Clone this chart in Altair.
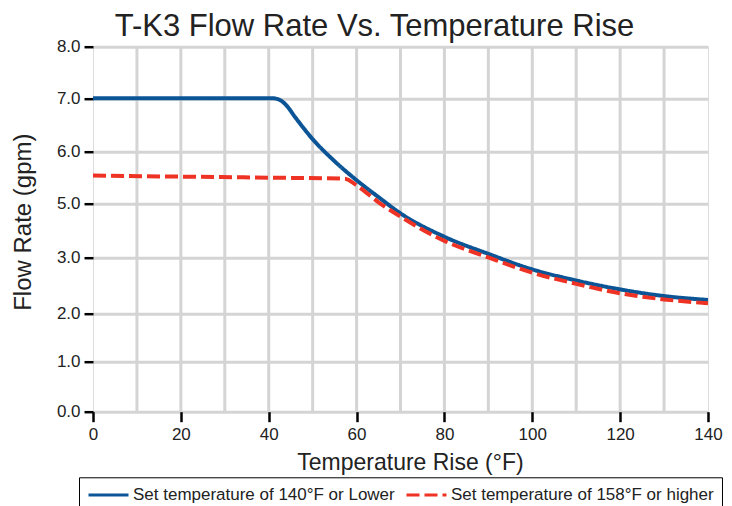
import altair as alt
import pandas as pd

# Data
blue_name = "Set temperature of 140°F or Lower"
red_name = "Set temperature of 158°F or higher"

blue_x = [0, 10, 20, 30, 40, 41, 42.5, 44, 46, 50, 55, 60, 65, 70, 80, 90, 100, 110, 120, 130, 140]
blue_y = [7.0, 7.0, 7.0, 7.0, 7.0, 7.0, 6.97, 6.87, 6.65, 6.24, 5.82, 5.45, 5.12, 4.63, 3.77, 3.14, 2.79, 2.59, 2.43, 2.31, 2.24]

red_x = [0, 20, 40, 57.3, 60, 65, 70, 80, 90, 100, 110, 120, 130, 140]
red_y = [5.54, 5.52, 5.50, 5.48, 5.35, 5.02, 4.51, 3.62, 3.01, 2.73, 2.53, 2.36, 2.25, 2.18]

y_ticks = [0, 1, 2, 3, 5, 6, 7, 8]
x_ticks = [0, 20, 40, 60, 80, 100, 120, 140]
x_grid = [10, 20, 30, 40, 50, 60, 70, 80, 90, 100, 110, 120, 130]

rows = [{"temp": x, "flow": y, "series": blue_name} for x, y in zip(blue_x, blue_y)]
rows += [{"temp": x, "flow": y, "series": red_name} for x, y in zip(red_x, red_y)]
df = pd.DataFrame(rows)
grid_df = pd.DataFrame({"g": x_grid})

FONT = "Liberation Sans"
W, H = 615, 365
y_range = [365, 315, 266.6, 211, 156.6, 105.3, 51.6, 0]

xscale = alt.Scale(domain=[0, 140], nice=False, zero=False)
yscale = alt.Scale(domain=y_ticks, range=y_range, nice=False, zero=False)

legend_kw = dict(title=None, orient="none", legendX=-14, legendY=430.6,
                 direction="horizontal", strokeColor="black",
                 padding=8, symbolType="M-1,0H4", symbolSize=256,
                 symbolStrokeWidth=3, labelFontSize=17, labelFont=FONT,
                 labelColor="#222", labelOffset=27, columnPadding=5,
                 labelLimit=400)

grid = alt.Chart(grid_df).mark_rule(color="#d4d4d4", strokeWidth=3).encode(
    x=alt.X("g:Q", scale=xscale),
    y=alt.value(0),
    y2=alt.value(H),
)

lines = alt.Chart(df).mark_line(strokeWidth=4, interpolate="monotone").encode(
    x=alt.X("temp:Q", scale=xscale,
            axis=alt.Axis(values=x_ticks, title="Temperature Rise (°F)", grid=False,
                          domain=False, tickColor="black", tickWidth=2.5, tickSize=10,
                          labelFontSize=17, labelColor="#222", labelPadding=5,
                          labelFlush=False, labelOverlap=False,
                          labelFont=FONT, titleFont=FONT, titleFontSize=23,
                          titleFontWeight="normal", titleColor="#222",
                          titleBaseline="alphabetic", titleX=317, titleY=58)),
    y=alt.Y("flow:Q", scale=yscale,
            axis=alt.Axis(values=y_ticks, format=".1f", title="Flow Rate (gpm)",
                          grid=True, gridColor="#d4d4d4", gridWidth=3,
                          domain=False, tickColor="black", tickWidth=2.5, tickSize=9,
                          labelFontSize=17, labelColor="#222", labelPadding=4,
                          labelFlush=False, labelOverlap=False,
                          labelFont=FONT, titleFont=FONT, titleFontSize=24,
                          titleFontWeight="normal", titleColor="#222",
                          titleBaseline="alphabetic", titleX=-63, titleY=175)),
    color=alt.Color("series:N",
                    scale=alt.Scale(domain=[blue_name, red_name], range=["#0b5597", "#ee3224"]),
                    legend=alt.Legend(**legend_kw)),
    strokeDash=alt.StrokeDash("series:N",
                              scale=alt.Scale(domain=[blue_name, red_name], range=[[1, 0], [13, 5]]),
                              legend=alt.Legend(**legend_kw)),
)

chart = alt.layer(grid, lines).properties(
    width=W, height=H,
    title=alt.TitleParams("T-K3 Flow Rate Vs. Temperature Rise", font=FONT, fontSize=31,
                          fontWeight="normal", color="#222", anchor="middle", dx=-26,
                          dy=5, offset=0),
    autosize=alt.AutoSizeParams(type="none"),
    padding={"left": 85, "top": 38.7, "right": 16, "bottom": 100},
).configure_view(stroke="black", strokeWidth=3).configure(background="white")

chart.save("out.html", embed_options={"renderer": "svg", "actions": False})
